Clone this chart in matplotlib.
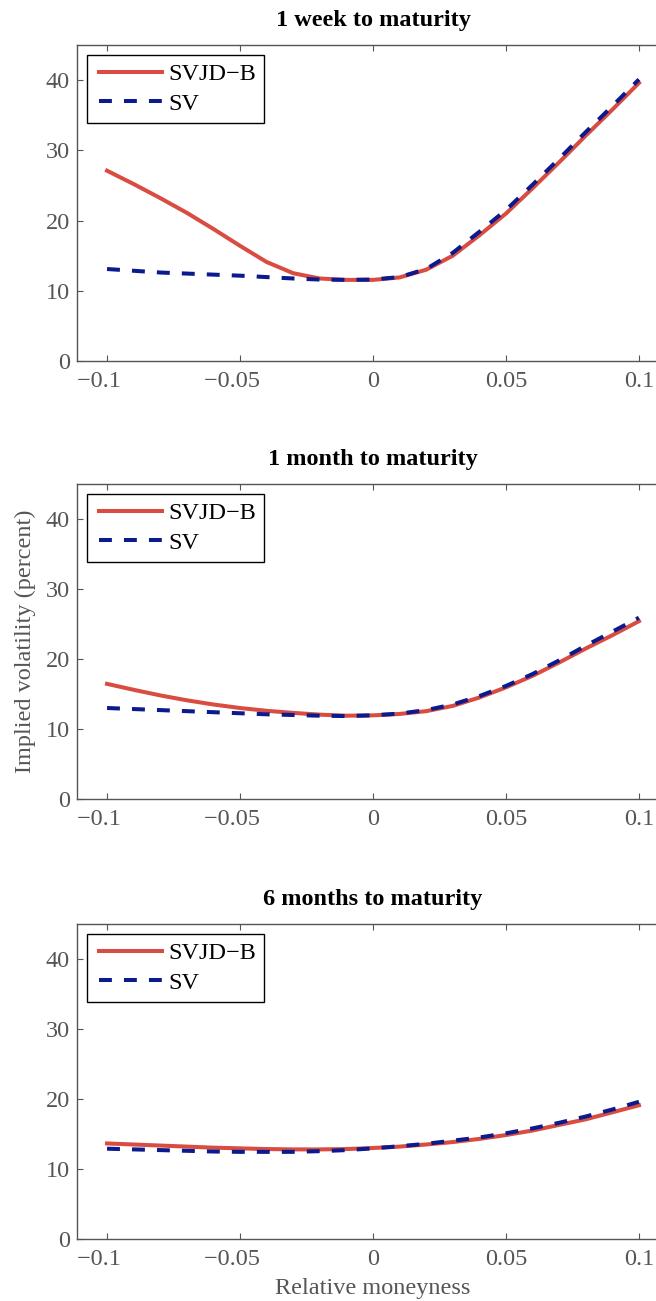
import numpy as np
import matplotlib
matplotlib.use("Agg")
from matplotlib import pyplot as plt
from matplotlib.lines import Line2D
from matplotlib.legend_handler import HandlerLine2D

plt.rcParams["font.family"] = ["Liberation Serif", "DejaVu Serif"]
plt.rcParams["axes.unicode_minus"] = True

# relative moneyness grid
moneyness = np.round(np.arange(-0.10, 0.1001, 0.01), 2)

# implied volatilities (percent), one pair of smiles per maturity
svjd_1w = [27.1, 25.2, 23.2, 21.1, 18.8, 16.4, 14.1, 12.5, 11.75, 11.55, 11.55,
           11.9, 13.0, 15.0, 17.9, 21.0, 24.6, 28.3, 32.1, 35.8, 39.6]
sv_1w = [13.1, 12.85, 12.6, 12.45, 12.3, 12.15, 11.95, 11.75, 11.6, 11.55, 11.6,
         11.95, 13.1, 15.4, 18.4, 21.5, 25.1, 28.8, 32.6, 36.3, 40.1]

svjd_1m = [16.45, 15.6, 14.8, 14.1, 13.5, 13.0, 12.6, 12.3, 12.05, 11.9, 11.95,
           12.15, 12.55, 13.3, 14.5, 15.95, 17.6, 19.5, 21.5, 23.4, 25.4]
sv_1m = [13.0, 12.85, 12.7, 12.55, 12.4, 12.25, 12.1, 12.0, 11.9, 11.85, 11.95,
         12.2, 12.7, 13.5, 14.7, 16.15, 17.85, 19.8, 21.9, 23.9, 25.9]

svjd_6m = [13.65, 13.5, 13.35, 13.2, 13.05, 12.95, 12.85, 12.8, 12.8, 12.85, 13.0,
           13.2, 13.5, 13.85, 14.3, 14.85, 15.5, 16.3, 17.1, 18.1, 19.1]
sv_6m = [12.9, 12.8, 12.7, 12.6, 12.5, 12.45, 12.45, 12.45, 12.55, 12.7, 12.95,
         13.25, 13.6, 14.05, 14.5, 15.1, 15.8, 16.6, 17.5, 18.5, 19.6]

titles = ["1 week to maturity", "1 month to maturity", "6 months to maturity"]
x_ticks = [-0.1, -0.05, 0, 0.05, 0.1]
# negative labels sit a little left of their ticks, hence the trailing space
x_ticklabels = ["\u22120.1\u2002\u2009", "\u22120.05\u2002\u2009", "0", "0.05", "0.1"]
y_ticks = [0, 10, 20, 30, 40]

RED = "#d94c41"
BLUE = "#0b1a8c"
GREY = "#555555"
FS = 17.5
LW = 2.9

fig = plt.figure(figsize=(6.56, 13.01), dpi=100)

# axes boxes in pixels (left, top, right, bottom) -> figure fractions
W, H = 656.0, 1301.0
boxes = [(77, 45, 669, 361), (77, 484, 669, 799), (77, 924, 669, 1239)]
panels = [(svjd_1w, sv_1w), (svjd_1m, sv_1m), (svjd_6m, sv_6m)]

axes = []
for box, (svjd, sv), title in zip(boxes, panels, titles):
    l, t, r, b = box
    ax = fig.add_axes([l / W, 1 - b / H, (r - l) / W, (b - t) / H])
    ax.plot(moneyness, svjd, color=RED, lw=LW, label="SVJD\u2212B")
    ax.plot(moneyness, sv, color=BLUE, lw=LW, ls=(0, (3.2, 3.0)), label="SV")
    ax.set_xlim(-0.1113, 0.1113)
    ax.set_ylim(0, 45)
    ax.set_xticks(x_ticks)
    ax.set_xticklabels(x_ticklabels)
    ax.set_yticks(y_ticks)
    ax.tick_params(direction="in", length=4, width=0.8, color=GREY,
                   labelcolor=GREY, labelsize=FS, top=True, right=True)
    ax.tick_params(axis="x", pad=7)
    ax.tick_params(axis="y", pad=5)
    for sp in ax.spines.values():
        sp.set_color(GREY)
        sp.set_linewidth(1.0)
    ax.set_title(title, fontsize=FS, fontweight="bold", pad=13.5)
    leg = ax.legend(loc="upper left", bbox_to_anchor=(10 / 592, 1 - 10 / (b - t)),
                    borderaxespad=0, fontsize=FS, handlelength=2.76,
                    handletextpad=0.25, labelspacing=0.31, borderpad=0.33,
                    fancybox=False, framealpha=1, edgecolor="black",
                    handler_map={Line2D: HandlerLine2D(xpad=0.165)})
    leg.get_frame().set_linewidth(1.0)
    axes.append(ax)

axes[1].set_ylabel("Implied volatility (percent)", fontsize=FS, color=GREY)
axes[1].yaxis.set_label_coords(-0.069, 0.5)
axes[2].set_xlabel("Relative moneyness", fontsize=FS, color=GREY)
axes[2].xaxis.set_label_coords(0.5, -0.125)

fig.savefig("out.png", dpi=100)
